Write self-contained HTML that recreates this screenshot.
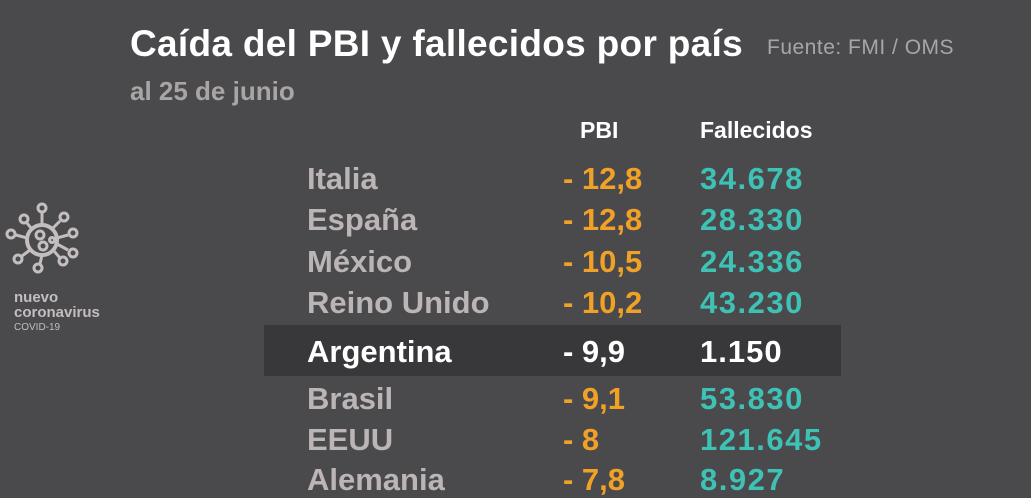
<!DOCTYPE html><html><head><style>
body{margin:0;width:1031px;height:496px;background:#4a4a4d;font-family:"Liberation Sans",sans-serif;overflow:hidden;position:relative}
.a{position:absolute;white-space:nowrap}
.c{color:#bbb5b5;font-size:31px;font-weight:bold}
.p{color:#f2a127;font-size:31px;font-weight:bold}
.f{color:#3fc2b6;font-size:31px;font-weight:bold;letter-spacing:1.5px}
</style></head><body>
<div class="a" style="left:130px;top:23px;color:#fff;font-size:37px;font-weight:bold;letter-spacing:0.3px">Caída del PBI y fallecidos por país</div>
<div class="a" style="left:767px;top:36px;color:#a9a5a5;font-size:21px;letter-spacing:0.5px">Fuente: FMI / OMS</div>
<div class="a" style="left:130px;top:76px;color:#a9a5a5;font-size:26px;font-weight:bold">al 25 de junio</div>
<div class="a" style="left:580px;top:117px;color:#fff;font-size:23px;font-weight:bold">PBI</div>
<div class="a" style="left:700px;top:117px;color:#fff;font-size:23px;font-weight:bold">Fallecidos</div>
<div class="a" style="left:264px;top:325px;width:577px;height:51px;background:#38383b"></div>
<svg class="a" style="left:0;top:198px" width="90" height="80" viewBox="0 0 90 80" fill="none" stroke="#c4bebe" stroke-width="3">
<circle cx="42" cy="42" r="15" stroke-width="4"/><circle cx="40" cy="37" r="4"/><circle cx="43" cy="48" r="4"/><circle cx="52" cy="42" r="2.5"/>
<g><line x1="42" y1="27" x2="42" y2="14"/><circle cx="42" cy="10" r="4"/><line x1="42" y1="57" x2="40" y2="66"/><circle cx="38" cy="70" r="4"/>
<line x1="27" y1="40" x2="16" y2="37"/><circle cx="11" cy="36" r="4"/><line x1="57" y1="40" x2="68" y2="37"/><circle cx="73" cy="35" r="4"/>
<line x1="31" y1="30" x2="27" y2="25"/><circle cx="24" cy="21" r="4"/><line x1="53" y1="30" x2="60" y2="23"/><circle cx="64" cy="19" r="4"/>
<line x1="30" y1="52" x2="22" y2="58"/><circle cx="18" cy="61" r="4"/><line x1="54" y1="53" x2="60" y2="60"/><circle cx="63" cy="63" r="4"/><line x1="57" y1="46" x2="68" y2="52"/><circle cx="73" cy="55" r="4"/></g></svg>
<div class="a" style="left:14px;top:290px;color:#c4bebe;font-size:15px;font-weight:bold;line-height:15px">nuevo<br>coronavirus</div>
<div class="a" style="left:14px;top:322px;color:#c4bebe;font-size:10px">COVID-19</div>
<div class="a c" style="left:307px;top:161px">Italia</div><div class="a p" style="left:563px;top:161px">- 12,8</div><div class="a f" style="left:700px;top:161px">34.678</div>
<div class="a c" style="left:307px;top:202px">España</div><div class="a p" style="left:563px;top:202px">- 12,8</div><div class="a f" style="left:700px;top:202px">28.330</div>
<div class="a c" style="left:307px;top:244px">México</div><div class="a p" style="left:563px;top:244px">- 10,5</div><div class="a f" style="left:700px;top:244px">24.336</div>
<div class="a c" style="left:307px;top:285px">Reino Unido</div><div class="a p" style="left:563px;top:285px">- 10,2</div><div class="a f" style="left:700px;top:285px">43.230</div>
<div class="a" style="left:307px;top:334px;color:#fff;font-size:31px;font-weight:bold">Argentina</div><div class="a" style="left:563px;top:334px;color:#fff;font-size:31px;font-weight:bold">- 9,9</div><div class="a" style="left:700px;top:334px;color:#fff;font-size:31px;font-weight:bold;letter-spacing:1px">1.150</div>
<div class="a c" style="left:307px;top:381px">Brasil</div><div class="a p" style="left:563px;top:381px">- 9,1</div><div class="a f" style="left:700px;top:381px">53.830</div>
<div class="a c" style="left:307px;top:422px">EEUU</div><div class="a p" style="left:563px;top:422px">- 8</div><div class="a f" style="left:700px;top:422px">121.645</div>
<div class="a c" style="left:307px;top:462px">Alemania</div><div class="a p" style="left:563px;top:462px">- 7,8</div><div class="a f" style="left:700px;top:462px">8.927</div>
</body></html>
